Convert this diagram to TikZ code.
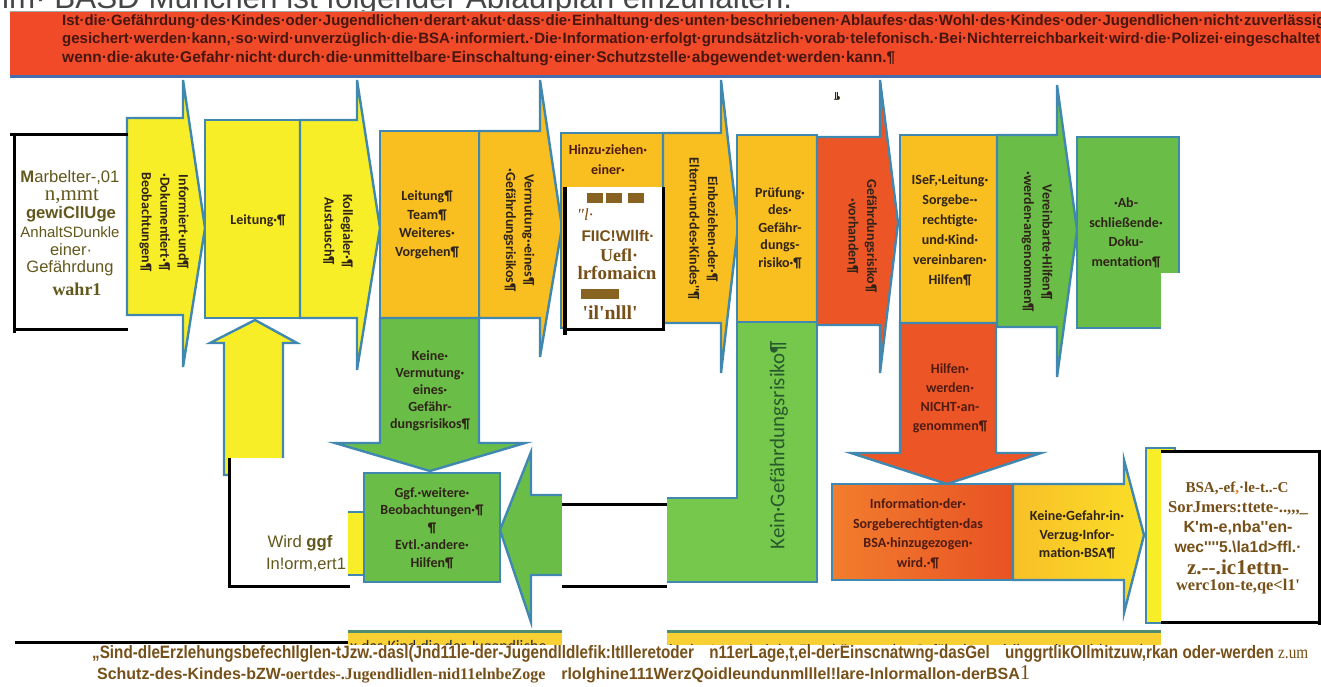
\documentclass[tikz,border=0pt]{standalone}
\usepackage{fontspec}
\usepackage{graphicx}
\setmainfont{Liberation Sans}
\newfontfamily\carl{Carlito}
\newfontfamily\lser{Liberation Serif}
\newfontfamily\lsans{Liberation Sans}
\definecolor{yel}{RGB}{247,238,40}
\definecolor{org}{RGB}{249,190,32}
\definecolor{grn}{RGB}{106,190,72}
\definecolor{grnL}{RGB}{118,200,76}
\definecolor{rdo}{RGB}{236,86,38}
\definecolor{outl}{RGB}{64,136,176}
\definecolor{bann}{RGB}{240,74,40}
\definecolor{bannline}{RGB}{70,110,170}
\definecolor{banntxt}{RGB}{70,22,15}
\definecolor{txtc}{RGB}{48,36,24}
\definecolor{rdtxt}{RGB}{80,28,18}
\definecolor{kgtxt}{RGB}{40,90,45}
\definecolor{olv}{RGB}{98,88,28}
\definecolor{brn}{RGB}{118,80,24}
\definecolor{blkc}{RGB}{135,98,32}
\definecolor{ttl}{RGB}{70,70,70}
\definecolor{infL}{RGB}{242,125,45}
\definecolor{infR}{RGB}{232,82,36}
\definecolor{kgL}{RGB}{248,192,40}
\definecolor{kgR}{RGB}{250,222,40}
\definecolor{bandc}{RGB}{249,208,52}
\definecolor{bandl}{RGB}{80,140,110}
\definecolor{bandtxt}{RGB}{40,40,60}
\definecolor{orgc}{RGB}{240,120,20}
\newcommand{\fw}[2]{\resizebox{#1}{!}{#2}}
\newcommand{\fwh}[3]{\resizebox{#1}{#2}{#3}}
% right arrow: style, x1, y1, x2, y2, head top y, head bottom y, tip x, tip y
\newcommand{\myrarr}[9]{\path[#1] (#2,#3) -- (#4,#3) -- (#4,#6) -- (#8,#9) -- (#4,#7) -- (#4,#5) -- (#2,#5) -- cycle;}
% vertical arrow: style, x1, tail y, x2, head base y, head x1, head x2, tip x, tip y
\newcommand{\myvarr}[9]{\path[#1] (#2,#3) -- (#4,#3) -- (#4,#5) -- (#7,#5) -- (#8,#9) -- (#6,#5) -- (#2,#5) -- cycle;}
\tikzset{
  shp/.style={draw=outl, line width=2.4pt, line join=miter},
  bt/.style={font=\carl\bfseries\fontsize{14}{18.5}\selectfont, text=txtc, align=center, inner sep=0pt},
  rt/.style={bt, rotate=-90},
  ocr/.style={inner sep=0pt, text=olv},
  blk/.style={line width=3pt, draw=black},
}
\begin{document}
\begin{tikzpicture}[x=1pt,y=-1pt]
\useasboundingbox (0,0) rectangle (1321,686);
\fill[white] (0,0) rectangle (1321,686);

% title (cut off at top)
\begin{scope}
\clip (0,0) rectangle (1321,12);
\node[anchor=base west, inner sep=0pt, text=ttl] (title) at (2,8) {\fw{790pt}{\lsans\fontsize{24}{24}\selectfont im· BASD München ist folgender Ablaufplan einzuhalten.}};
\end{scope}

% red banner
\path[fill=bann] (10,11) rectangle (1321,77);
\draw[line width=1pt, draw=gray!70] (10,11) -- (1321,11);
\draw[line width=2.5pt, draw=bannline] (10,76.5) -- (1321,76.5);
\node[anchor=base west, inner sep=0pt, text=banntxt] (b1) at (62,25) {\fw{1263pt}{\lsans\bfseries\fontsize{14}{14}\selectfont Ist·die·Gefährdung·des·Kindes·oder·Jugendlichen·derart·akut·dass·die·Einhaltung·des·unten·beschriebenen·Ablaufes·das·Wohl·des·Kindes·oder·Jugendlichen·nicht·zuverlässig}};
\node[anchor=base west, inner sep=0pt, text=banntxt] (b2) at (62,43.5) {\fw{1262pt}{\lsans\bfseries\fontsize{14}{14}\selectfont gesichert·werden·kann,·so·wird·unverzüglich·die·BSA·informiert.·Die·Information·erfolgt·grundsätzlich·vorab·telefonisch.·Bei·Nichterreichbarkeit·wird·die·Polizei·eingeschaltet,}};
\node[anchor=base west, inner sep=0pt, text=banntxt] (b3) at (62,62) {\fw{833pt}{\lsans\bfseries\fontsize{14}{14}\selectfont wenn·die·akute·Gefahr·nicht·durch·die·unmittelbare·Einschaltung·einer·Schutzstelle·abgewendet·werden·kann.¶}};

% ---- shapes ----
\myrarr{shp,fill=yel}{127}{118}{183}{315}{80}{367}{205}{228}
\path[shp,fill=yel] (205,120) rectangle (300,318);
\myrarr{shp,fill=yel}{300}{120}{357}{318}{80}{370}{380}{228}
\myvarr{shp,fill=yel}{224}{475}{283}{343}{210}{297}{255}{320}

\myrarr{shp,fill=org}{479}{131}{540}{318}{80}{357}{562}{227}
\path[shp,fill=org] (380,131) rectangle (479,318);
\myvarr{shp,fill=grn}{380}{318}{479}{443}{335}{525}{430}{471}
\path[shp,fill=yel] (330,512) rectangle (364,575);
\path[shp,fill=grn] (364,473) rectangle (500,582);
\path[shp,fill=grn] (580,495) -- (531,495) -- (531,452) -- (500,530) -- (531,622) -- (531,575) -- (580,575) -- cycle;

\path[shp,fill=org] (561,133) rectangle (663,328);
\myrarr{shp,fill=org}{663}{133}{721}{323}{80}{373}{738}{227}
\path[shp,fill=grnL] (737,322) -- (817,322) -- (817,582) -- (645,582) -- (645,498) -- (737,498) -- cycle;
\path[shp,fill=org] (737,135) rectangle (817,322);
\myrarr{shp,fill=rdo}{817}{137}{880}{325}{80}{373}{898}{223}
\path[shp,fill=org] (900,135) rectangle (997,323);
\myvarr{shp,fill=rdo}{900}{323}{996}{453}{851}{1041}{947}{484}
\myrarr{shp,fill=grn}{997}{135}{1057}{327}{85}{377}{1077}{230}
\path[shp,fill=grn] (1077,137) rectangle (1179,328);
\path[shp,left color=infL,right color=infR] (832,484) rectangle (1013,580);
\myrarr{shp,left color=kgL,right color=kgR}{1013}{484}{1124}{580}{460}{613}{1144}{535}
\path[shp,fill=yel] (1146,448) rectangle (1175,623);

% bottom band (mostly covered)
\path[fill=bandc] (348,631) rectangle (1161,660);
\draw[line width=2.5pt, draw=bandl] (348,631.5) -- (1161,631.5);
\begin{scope}
\clip (348,633) rectangle (1161,645);
\node[anchor=base west, inner sep=0pt, text=bandtxt] (bd1) at (350,651) {\carl\fontsize{16}{16}\selectfont x·das·Kind·die·der·Jugendliche};
\node[anchor=base west, inner sep=0pt, text=bandtxt] (bd2) at (669,655) {\carl\fontsize{16}{16}\selectfont in·der·Lage,·bei·der·Einschätzung·des·Gefährdungsrisikos·mitzuwirken·oder·werden·zum·Schutz};
\end{scope}

% ---- white overlay patches ----
\fill[white] (229,458) rectangle (348,645);
\fill[white] (562,440) rectangle (667,645);
\fill[white] (563,187) rectangle (663,329);
\fill[white] (1161,273) rectangle (1321,345);
\fill[white] (1161,450) rectangle (1321,623);
\fill[white] (1161,625) rectangle (1321,645);
\fill[white] (0,645) rectangle (1321,686);

% ---- black frame lines ----
\draw[blk] (10,134) -- (128,134);
\draw[blk] (14,329) -- (128,329);
\draw[blk] (14,132.5) -- (14,333);
\draw[blk] (229,458) -- (229,588);
\draw[blk] (227.5,586) -- (350,586);
\draw[blk] (562,504) -- (667,504);
\draw[blk] (562,586) -- (667,586);
\draw[line width=4pt] (565,187) -- (565,335);
\draw[blk] (563,329) -- (665,329);
\draw[blk] (663,187) -- (663,331);
\draw[blk] (1161,451) -- (1321,451);
\draw[blk] (1319,449.5) -- (1319,625);
\draw[blk] (1161,622) -- (1321,622);
\draw[blk] (15,642) -- (348,642);

% ---- texts in shapes ----
\node[rt] (t1) at (164,222) {Informiert·und¶\\·Dokumentiert·¶\\Beobachtungen¶};
\node[bt] (t2) at (258,221) {Leitung·¶};
\node[rt] (t3) at (338,231) {Kollegialer·¶\\Austausch¶};
\node[bt] (t4) at (427,225) {Leitung¶\\Team¶\\Weiteres·\\Vorgehen¶};
\node[rt] (t5) at (519,230) {Vermutung··eines¶\\·Gefährdungsrisikos¶};
\node[bt, text=rdtxt, font=\carl\bfseries\fontsize{14}{20}\selectfont] (t6) at (608,160) {Hinzu·ziehen·\\einer·};
\node[rt] (t7) at (703,229) {Einbeziehen·der·¶\\Eltern·und·des·Kindes''¶};
\node[bt, font=\carl\bfseries\fontsize{14}{17.5}\selectfont] (t8) at (780,228) {Prüfung·\\des·\\Gefähr-\\dungs-\\risiko·¶};
\node[rt] (t9) at (862,236) {Gefährdungsrisiko¶\\·vorhanden¶};
\node[bt, font=\carl\bfseries\fontsize{14}{20}\selectfont] (t10) at (950,230) {ISeF,·Leitung·\\Sorgebe-·\\rechtigte·\\und·Kind·\\vereinbaren·\\Hilfen¶};
\node[rt] (t11) at (1037,242) {Vereinbarte·Hilfen¶\\·werden·angenommen¶};
\node[bt, font=\carl\bfseries\fontsize{14}{19.5}\selectfont] (t12) at (1126,233) {·Ab-\\schließende·\\Doku-\\mentation¶};
\node[bt, font=\carl\bfseries\fontsize{14}{17}\selectfont] (t13) at (430,391) {Keine·\\Vermutung·\\eines·\\Gefähr-\\dungsrisikos¶};
\node[bt, font=\carl\bfseries\fontsize{14}{17.5}\selectfont] (t14) at (432,528) {Ggf.·weitere·\\Beobachtungen·¶\\¶\\Evtl.·andere·\\Hilfen¶};
\node[bt, rotate=90, font=\carl\fontsize{21}{24}\selectfont, text=kgtxt] (t15) at (779,445) {Kein·Gefährdungsrisiko¶};
\node[bt, text=rdtxt, font=\carl\bfseries\fontsize{14}{19}\selectfont] (t16) at (950,398) {Hilfen·\\werden·\\NICHT·an-\\genommen¶};
\node[bt, text=rdtxt, font=\carl\bfseries\fontsize{14}{19.5}\selectfont] (t17) at (918,534) {Information·der·\\Sorgeberechtigten·das\\BSA·hinzugezogen·\\wird.·¶};
\node[bt] (t18) at (1077,535) {Keine·Gefahr·in·\\Verzug·Infor-\\mation·BSA¶};
\node[bt, rotate=180, font=\carl\bfseries\fontsize{10}{10}\selectfont] (mk) at (837,96) {¶};

% ---- OCR overlay texts ----
\node[ocr] (l1) at (70,178) {\fw{99pt}{\lsans\fontsize{15}{15}\selectfont\textbf{M}arbelter-,01}};
\node[ocr] (l2) at (72,196) {\fw{54pt}{\lser\fontsize{18}{18}\selectfont n,mmt}};
\node[ocr] (l3) at (71,214) {\fw{90pt}{\lsans\bfseries\fontsize{15}{15}\selectfont gewiCllUge}};
\node[ocr] (l4) at (70,232) {\fw{99pt}{\lsans\fontsize{15}{15}\selectfont AnhaltSDunkle}};
\node[ocr] (l5) at (71,250) {\fw{42pt}{\lsans\fontsize{15}{15}\selectfont einer·}};
\node[ocr] (l6) at (70,268) {\fw{87pt}{\lsans\fontsize{15}{15}\selectfont Gefährdung}};
\node[ocr] (l7) at (77,289) {\fw{49pt}{\lser\bfseries\fontsize{16}{16}\selectfont wahr1}};

\node[ocr] (w1) at (300,543) {\fw{65pt}{\lsans\fontsize{15}{15}\selectfont Wird \textbf{ggf}}};
\node[ocr] (w2) at (306,565) {\fw{80pt}{\lsans\fontsize{15}{15}\selectfont In!orm,ert1}};

\fill[blkc] (587,193) rectangle (603,203);
\fill[blkc] (606,193) rectangle (622,203);
\fill[blkc] (628,193) rectangle (644,203);
\fill[blkc] (581,289) rectangle (619,299);
\node[ocr, text=brn] (h1) at (585,215) {\lser\itshape\fontsize{17}{17}\selectfont "l·};
\node[ocr, text=brn] (h2) at (618,236) {\fw{73pt}{\lsans\bfseries\fontsize{14}{14}\selectfont FIIC!Wllft·}};
\node[ocr, text=brn] (h3) at (619,255) {\fw{38pt}{\lser\bfseries\fontsize{20}{20}\selectfont Uefl·}};
\node[ocr, text=brn] (h4) at (617,273) {\fw{79pt}{\lser\bfseries\fontsize{18}{18}\selectfont lrfomaicn}};
\node[ocr, text=brn] (h5) at (610,313) {\fw{55pt}{\lser\bfseries\fontsize{22}{22}\selectfont 'il'nlll'}};

\node[ocr, text=brn] (s1) at (1237,488) {\fw{103pt}{\lser\bfseries\fontsize{16}{16}\selectfont BSA,-ef\textcolor{orgc}{,}·le-t..-C}};
\node[ocr, text=brn] (s2) at (1238,508) {\fw{140pt}{\lser\bfseries\fontsize{17}{17}\selectfont SorJmers:ttete-..,,,\_}};
\node[ocr, text=brn] (s3) at (1238,528) {\fw{109pt}{\lsans\bfseries\fontsize{14}{14}\selectfont K'm-e,nba''en-}};
\node[ocr, text=brn] (s4) at (1238,547) {\fw{127pt}{\lsans\bfseries\fontsize{14}{14}\selectfont wec''''5.\textbackslash la1d>ffl.·}};
\node[ocr, text=brn] (s5) at (1238,567) {\fw{102pt}{\lser\bfseries\fontsize{19}{19}\selectfont z.--.ic1ettn-}};
\node[ocr, text=brn] (s6) at (1238,587) {\fw{124pt}{\lser\bfseries\fontsize{17}{17}\selectfont werc1on-te,qe<l1'}};

\node[anchor=base west, inner sep=0pt, text=brn] (f1) at (92,658.5) {\fwh{1216pt}{13pt}{\lsans\bfseries\fontsize{13}{13}\selectfont „Sind-dleErzlehungsbefechIlglen-tJzw.-dasl(Jnd11le-der-Jugendlldlefik:ltIlleretoder\quad n11erLage,t,el-derEinscnatwng-dasGel\quad unggrtlikOllmitzuw,rkan oder-werden {\lser\mdseries z.um}}};
\node[anchor=base west, inner sep=0pt, text=brn] (f2) at (97,679.5) {\fwh{933pt}{14pt}{\lsans\bfseries\fontsize{13}{13}\selectfont Schutz-des-Kindes-bZW-{\lser oertdes-.Jugendlidlen-nid11elnbeZoge}\quad rlolghine111WerzQoidleundunmlllel!lare-Inlormallon-derBSA{\lser\mdseries\fontsize{17}{17}\selectfont 1}}};
\end{tikzpicture}
\end{document}
